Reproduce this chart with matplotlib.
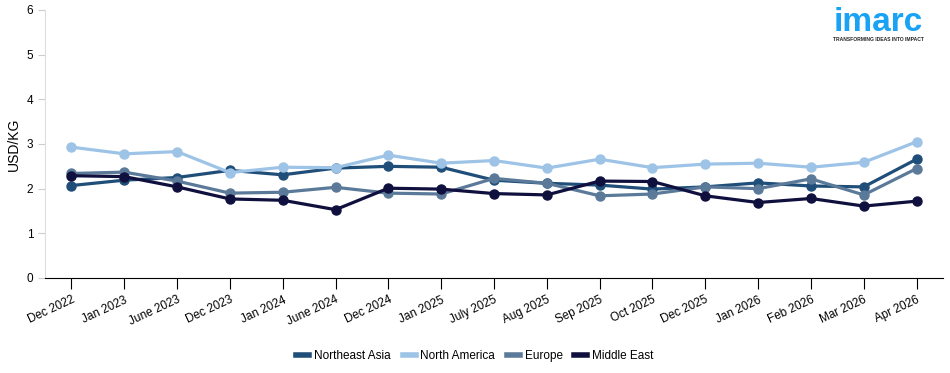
import matplotlib.pyplot as plt
import numpy as np

plt.rcParams['font.family'] = ['Liberation Sans', 'DejaVu Sans']

months = ['Dec 2022', 'Jan 2023', 'June 2023', 'Dec 2023', 'Jan 2024', 'June 2024',
          'Dec 2024', 'Jan 2025', 'July 2025', 'Aug 2025', 'Sep 2025', 'Oct 2025',
          'Dec 2025', 'Jan 2026', 'Feb 2026', 'Mar 2026', 'Apr 2026']

northeast_asia = [2.07, 2.19, 2.25, 2.41, 2.31, 2.46, 2.50, 2.48, 2.19, 2.12, 2.08, 1.99,
                  2.04, 2.13, 2.06, 2.04, 2.66]
north_america = [2.93, 2.78, 2.83, 2.36, 2.48, 2.47, 2.75, 2.57, 2.63, 2.46, 2.66, 2.47,
                 2.55, 2.57, 2.48, 2.59, 3.05]
europe = [2.34, 2.37, 2.17, 1.90, 1.92, 2.03, 1.90, 1.88, 2.23, 2.12, 1.84, 1.88,
          2.04, 2.00, 2.22, 1.86, 2.45]
middle_east = [2.29, 2.27, 2.04, 1.77, 1.74, 1.53, 2.01, 1.99, 1.89, 1.86, 2.17, 2.16,
               1.84, 1.69, 1.78, 1.61, 1.72]

series = [('Northeast Asia', northeast_asia, '#1f4e79'),
          ('North America', north_america, '#9dc3e6'),
          ('Europe', europe, '#5b7a99'),
          ('Middle East', middle_east, '#10103f')]

fig = plt.figure(figsize=(9.5, 3.73), dpi=100)
ax = fig.add_axes([45/950, 1 - 278/373, 898/950, 268/373])

x = np.arange(len(months))
for name, vals, col in series:
    ax.plot(x, vals, color=col, lw=2.3, marker='o', ms=6.5, label=name)

ax.set_xlim(-0.5, len(months) - 0.5)
ax.set_ylim(0, 6)
ax.set_yticks(range(7))
ax.set_xticks(x)
ax.set_xticklabels(months, rotation=25, ha='right', rotation_mode='anchor', fontsize=8.5)
ax.tick_params(axis='y', labelsize=8.5, length=5, color='#cccccc')
ax.tick_params(axis='x', length=8, color='black')
ax.set_ylabel('USD/KG', fontsize=10)

for s in ['top', 'right']:
    ax.spines[s].set_visible(False)
ax.spines['left'].set_color('#dddddd')
ax.spines['bottom'].set_color('black')

fig.legend(loc='lower center', bbox_to_anchor=(0.5, 0.0), ncol=4, frameon=False,
           fontsize=8.5, handlelength=1.1, handletextpad=0.4, columnspacing=1.0)
for h in fig.legends[0].legend_handles:
    h.set_marker('')
    h.set_linewidth(4)

fig.text(0.925, 0.94, 'imarc', color='#1aa3f5', fontsize=24, fontweight='bold',
         ha='center', va='center')
fig.text(0.925, 0.895, 'TRANSFORMING IDEAS INTO IMPACT', color='#222222',
         fontsize=3.6, fontweight='bold', ha='center', va='center')

fig.savefig('out.png', dpi=100)
